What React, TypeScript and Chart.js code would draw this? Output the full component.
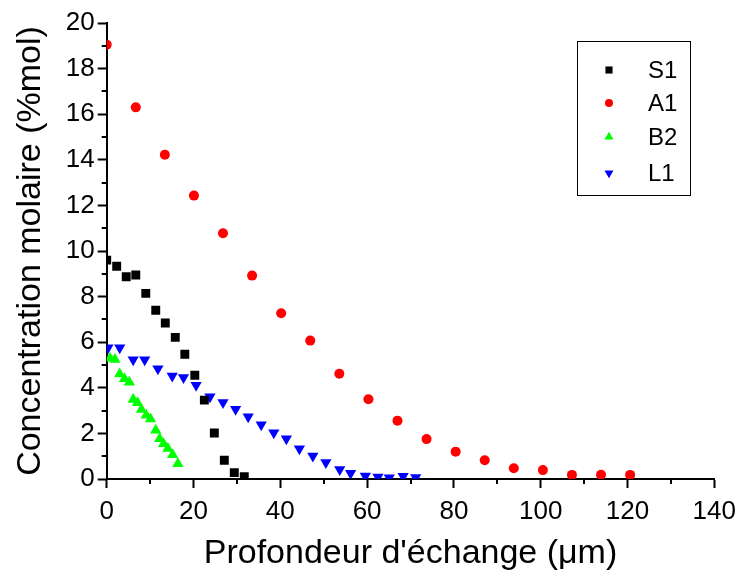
import React, { useEffect, useRef } from 'react';
import { Chart, registerables } from 'chart.js';
Chart.register(...registerables);

const FONT = '"Liberation Sans", Arial, Helvetica, sans-serif';

const seriesNames = ['S1', 'A1', 'B2', 'L1'];
const seriesColors = ['#000000', '#ff0000', '#00ff00', '#0000ff'];

const s1X = [0, 2.3, 4.5, 6.7, 9.0, 11.3, 13.5, 15.8, 18.0, 20.3, 22.5, 24.8, 27.1, 29.4, 31.7];
const s1Y = [9.6, 9.33, 8.87, 8.95, 8.14, 7.4, 6.84, 6.21, 5.47, 4.55, 3.46, 2.02, 0.82, 0.28, 0.1];

const a1X = [0, 6.7, 13.4, 20.1, 26.8, 33.5, 40.2, 46.9, 53.6, 60.3, 67.0, 73.7, 80.4, 87.1, 93.8, 100.5, 107.2, 113.9, 120.6];
const a1Y = [19.05, 16.3, 14.22, 12.43, 10.78, 8.92, 7.27, 6.07, 4.62, 3.5, 2.56, 1.75, 1.2, 0.82, 0.47, 0.39, 0.18, 0.19, 0.18];

const b2X = [0.75, 1.9, 3.0, 4.1, 5.2, 6.1, 7.1, 8.0, 9.1, 10.1, 11.3, 12.2, 13.1, 14.1, 15.2, 16.4];
const b2Y = [5.3, 5.24, 4.6, 4.4, 4.24, 3.49, 3.34, 3.05, 2.8, 2.63, 2.14, 1.76, 1.55, 1.34, 1.06, 0.67];

const l1X = [0.3, 3.0, 6.1, 8.75, 11.8, 15.1, 17.7, 20.6, 23.8, 26.8, 29.7, 32.6, 35.6, 38.5, 41.4, 44.4, 47.5, 50.5, 53.7, 56.2, 59.6, 62.5, 65.1, 68.3, 71.2];
const l1Y = [5.76, 5.76, 5.23, 5.23, 4.84, 4.52, 4.45, 4.11, 3.61, 3.35, 3.06, 2.73, 2.38, 2.03, 1.77, 1.33, 1.01, 0.72, 0.42, 0.25, 0.13, 0.09, 0.06, 0.12, 0.07];

const xTitle = "Profondeur d'échange (\u03bcm)";
const yTitle = 'Concentration molaire (%mol)';

const toPts = (xs: number[], ys: number[]) => xs.map((x, i) => ({ x, y: ys[i] }));

const pointStyles: any[] = ['rect', 'circle', 'triangle', 'triangle'];
const pointRotations = [0, 0, 0, 180];
const pointRadii = [6.3, 5, 6.5, 6.5];

const minorTicks = {
  id: 'minorTicks',
  afterDraw(chart: any) {
    const { ctx, scales } = chart;
    const xs = scales.x;
    const ys = scales.y;
    ctx.save();
    ctx.strokeStyle = '#000';
    ctx.lineWidth = 2;
    ctx.beginPath();
    for (let v = 10; v < 140; v += 20) {
      const px = Math.round(xs.getPixelForValue(v));
      ctx.moveTo(px, xs.top);
      ctx.lineTo(px, xs.top + 5);
    }
    for (let v = 1; v < 20; v += 2) {
      const py = Math.round(ys.getPixelForValue(v));
      ctx.moveTo(ys.right, py);
      ctx.lineTo(ys.right - 5, py);
    }
    ctx.stroke();
    ctx.restore();
  },
};

function drawMarker(ctx: CanvasRenderingContext2D, style: string, x: number, y: number, r: number, rot: number) {
  ctx.beginPath();
  if (style === 'rect') {
    const s = Math.SQRT1_2 * r;
    ctx.rect(x - s, y - s, 2 * s, 2 * s);
  } else if (style === 'circle') {
    ctx.arc(x, y, r, 0, Math.PI * 2);
  } else {
    let rad = (rot * Math.PI) / 180;
    ctx.moveTo(x + Math.sin(rad) * r, y - Math.cos(rad) * r);
    rad += (2 * Math.PI) / 3;
    ctx.lineTo(x + Math.sin(rad) * r, y - Math.cos(rad) * r);
    rad += (2 * Math.PI) / 3;
    ctx.lineTo(x + Math.sin(rad) * r, y - Math.cos(rad) * r);
    ctx.closePath();
  }
  ctx.fill();
}

const boxLegend = {
  id: 'boxLegend',
  afterDraw(chart: any) {
    const { ctx } = chart;
    ctx.save();
    ctx.strokeStyle = '#000';
    ctx.lineWidth = 1;
    ctx.strokeRect(577.5, 41.5, 113, 154);
    const ys = [70, 103, 137, 173];
    chart.data.datasets.forEach((ds: any, i: number) => {
      ctx.fillStyle = ds.backgroundColor;
      drawMarker(ctx, ds.pointStyle, 609, ys[i], ds.pointRadius * 0.8, ds.rotation || 0);
      ctx.fillStyle = '#000';
      ctx.font = `24px ${FONT}`;
      ctx.textBaseline = 'middle';
      ctx.textAlign = 'left';
      ctx.fillText(ds.label, 648, ys[i] + 1);
    });
    ctx.restore();
  },
};

export default function App() {
  const ref = useRef<HTMLCanvasElement | null>(null);

  useEffect(() => {
    if (!ref.current) return;
    const all = [toPts(s1X, s1Y), toPts(a1X, a1Y), toPts(b2X, b2Y), toPts(l1X, l1Y)];
    const chart = new Chart(ref.current, {
      type: 'scatter',
      data: {
        datasets: all.map((pts, i) => ({
          label: seriesNames[i],
          data: pts,
          backgroundColor: seriesColors[i],
          borderColor: seriesColors[i],
          borderWidth: 0,
          pointStyle: pointStyles[i],
          pointRadius: pointRadii[i],
          pointHoverRadius: pointRadii[i],
          rotation: pointRotations[i],
          clip: 0,
        })) as any,
      },
      options: {
        animation: false,
        responsive: false,
        devicePixelRatio: 1,
        layout: { padding: { left: 0, top: 23, right: 25, bottom: 0 } },
        plugins: {
          legend: { display: false },
          tooltip: { enabled: false },
        },
        scales: {
          x: {
            type: 'linear',
            min: 0,
            max: 140,
            afterFit: (s: any) => { s.height = 100; },
            ticks: { stepSize: 20, color: '#000', font: { family: FONT, size: 26 }, padding: 8, maxRotation: 0 },
            grid: { display: true, drawOnChartArea: false, drawTicks: true, tickLength: 9, tickColor: '#000', tickWidth: 2 },
            border: { display: true, color: '#000', width: 2 },
            title: { display: true, text: xTitle, color: '#000', font: { family: FONT, size: 34 }, padding: { top: 0, bottom: 5 } },
          },
          y: {
            type: 'linear',
            min: 0,
            max: 20,
            afterFit: (s: any) => { s.width = 106.7; },
            ticks: { stepSize: 2, color: '#000', font: { family: FONT, size: 26 }, padding: 3 },
            grid: { display: true, drawOnChartArea: false, drawTicks: true, tickLength: 9, tickColor: '#000', tickWidth: 2 },
            border: { display: true, color: '#000', width: 2 },
            title: { display: true, text: yTitle, color: '#000', font: { family: FONT, size: 34 }, padding: { top: 10, bottom: 0 } },
          },
        },
      } as any,
      plugins: [minorTicks, boxLegend],
    });
    return () => chart.destroy();
  }, []);

  return (
    <div style={{ position: 'fixed', left: 0, top: 0, width: 744, height: 579, background: '#fff' }}>
      <canvas ref={ref} width={744} height={579} style={{ width: 744, height: 579, display: 'block' }} />
    </div>
  );
}
